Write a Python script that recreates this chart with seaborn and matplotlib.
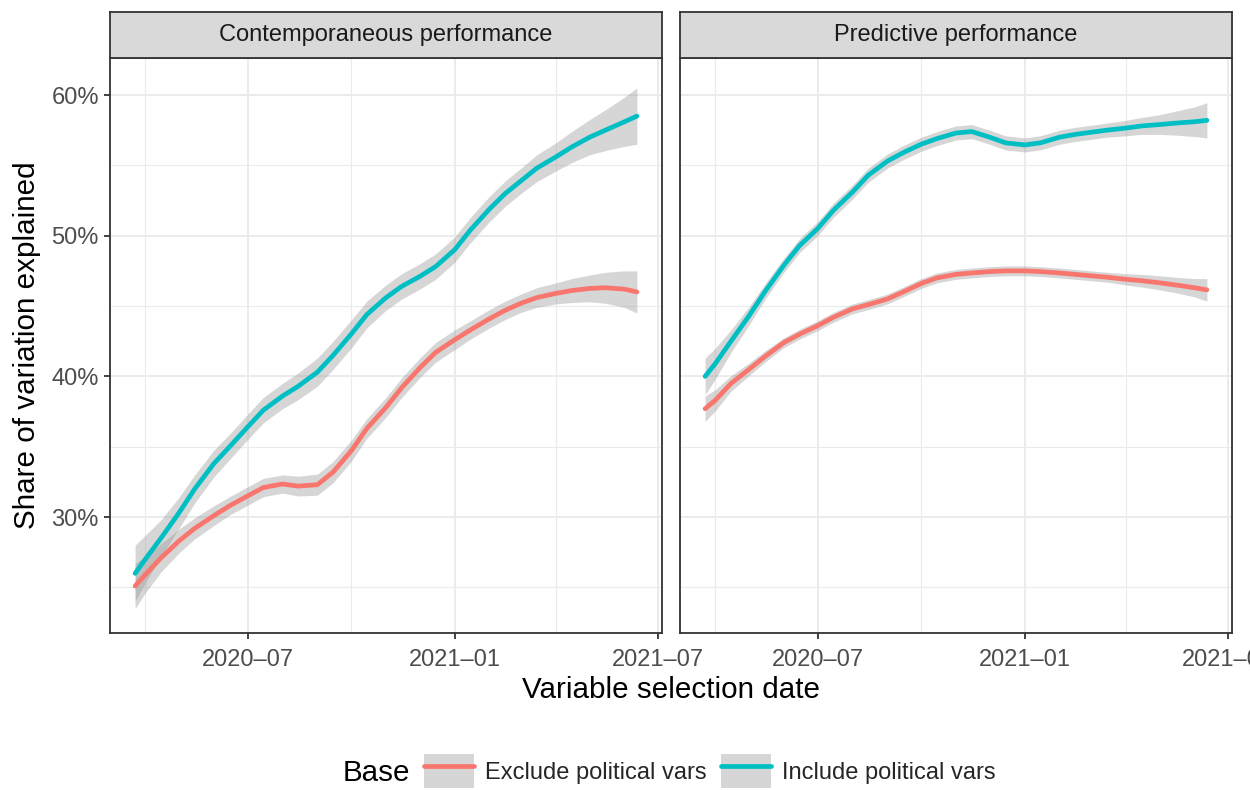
import matplotlib
matplotlib.use("Agg")
import matplotlib.pyplot as plt
import matplotlib.dates as mdates
from matplotlib.patches import Patch
from matplotlib.lines import Line2D
from matplotlib.ticker import FuncFormatter, FixedLocator
import numpy as np
import pandas as pd
import seaborn as sns

# ---------------- data ----------------
dates = ["2020-03-23", "2020-04-01", "2020-04-15", "2020-05-01", "2020-05-15",
         "2020-06-01", "2020-06-15", "2020-07-01", "2020-07-15", "2020-08-01",
         "2020-08-15", "2020-09-01", "2020-09-15", "2020-10-01", "2020-10-15",
         "2020-11-01", "2020-11-15", "2020-12-01", "2020-12-15", "2021-01-01",
         "2021-01-15", "2021-02-01", "2021-02-15", "2021-03-01", "2021-03-15",
         "2021-04-01", "2021-04-15", "2021-05-01", "2021-05-15", "2021-06-01",
         "2021-06-12"]

panels = ["Contemporaneous performance", "Predictive performance"]
bases = ["Exclude political vars", "Include political vars"]

contemp_exclude = [25.1, 25.9, 27.1, 28.3, 29.2, 30.1, 30.8, 31.5, 32.1, 32.35,
                   32.2, 32.3, 33.2, 34.7, 36.3, 37.8, 39.2, 40.6, 41.7, 42.6,
                   43.3, 44.1, 44.7, 45.2, 45.6, 45.9, 46.1, 46.25, 46.3, 46.2,
                   46.0]
contemp_exclude_se = [1.6, 1.3, 1.0, 0.85, 0.75, 0.7, 0.65, 0.65, 0.65, 0.65,
                      0.7, 0.75, 0.75, 0.75, 0.7, 0.7, 0.7, 0.7, 0.7, 0.7,
                      0.65, 0.65, 0.65, 0.65, 0.7, 0.75, 0.85, 0.95, 1.1, 1.3,
                      1.5]
contemp_include = [26.0, 27.0, 28.5, 30.3, 32.0, 33.8, 35.0, 36.4, 37.6, 38.6,
                   39.3, 40.3, 41.5, 43.0, 44.4, 45.6, 46.4, 47.1, 47.8, 49.0,
                   50.4, 51.9, 53.0, 53.9, 54.8, 55.6, 56.3, 57.0, 57.5, 58.1,
                   58.5]
contemp_include_se = [2.0, 1.7, 1.3, 1.1, 1.0, 0.95, 0.9, 0.9, 0.9, 0.9,
                      0.95, 1.0, 1.0, 1.0, 0.95, 0.9, 0.9, 0.9, 0.9, 0.9,
                      0.9, 0.9, 0.9, 0.9, 0.95, 1.0, 1.1, 1.25, 1.45, 1.75,
                      2.0]
predict_exclude = [37.7, 38.3, 39.5, 40.5, 41.4, 42.4, 43.0, 43.6, 44.2, 44.8,
                   45.1, 45.5, 46.0, 46.6, 47.0, 47.25, 47.35, 47.45, 47.5, 47.5,
                   47.45, 47.35, 47.25, 47.15, 47.05, 46.9, 46.8, 46.65, 46.5, 46.3,
                   46.15]
predict_exclude_se = [0.9, 0.75, 0.55, 0.45, 0.4, 0.35, 0.35, 0.35, 0.35, 0.35,
                      0.35, 0.35, 0.35, 0.35, 0.35, 0.35, 0.35, 0.35, 0.35, 0.35,
                      0.35, 0.35, 0.35, 0.35, 0.35, 0.4, 0.45, 0.5, 0.55, 0.65,
                      0.8]
predict_include = [40.0, 40.9, 42.5, 44.3, 46.0, 47.9, 49.3, 50.5, 51.8, 53.1,
                   54.3, 55.3, 55.9, 56.5, 56.9, 57.3, 57.4, 57.0, 56.6, 56.45,
                   56.6, 57.0, 57.2, 57.35, 57.5, 57.65, 57.8, 57.9, 58.0, 58.1,
                   58.2]
predict_include_se = [1.3, 1.1, 0.8, 0.65, 0.55, 0.5, 0.5, 0.5, 0.5, 0.5,
                      0.5, 0.5, 0.5, 0.5, 0.5, 0.5, 0.5, 0.5, 0.5, 0.5,
                      0.5, 0.5, 0.5, 0.5, 0.5, 0.55, 0.6, 0.7, 0.85, 1.05,
                      1.25]

y_major = [30, 40, 50, 60]
y_minor = [25, 35, 45, 55]
x_major = ["2020-07-01", "2021-01-01", "2021-07-01"]
x_minor = ["2020-04-01", "2020-10-01", "2021-04-01"]

colors = {"Exclude political vars": "#F8766D", "Include political vars": "#00BFC4"}

series = {
    (panels[0], bases[0]): (contemp_exclude, contemp_exclude_se),
    (panels[0], bases[1]): (contemp_include, contemp_include_se),
    (panels[1], bases[0]): (predict_exclude, predict_exclude_se),
    (panels[1], bases[1]): (predict_include, predict_include_se),
}
rows = []
for (p, b), (vals, se) in series.items():
    for d, v, s in zip(dates, vals, se):
        rows.append({"panel": p, "base": b, "date": pd.Timestamp(d),
                     "value": v, "lo": v - s, "hi": v + s})
df = pd.DataFrame(rows)

# ---------------- figure ----------------
sns.set_theme(style="white")
plt.rcParams["font.family"] = ["Liberation Sans", "DejaVu Sans"]

W, H = 1250, 790
fig = plt.figure(figsize=(W / 100, H / 100), dpi=100)

def fx(px):
    return px / W

def fy(py):
    return 1 - py / H

panel_top, panel_bot = 58, 633
strip_top = 12
lefts = [(110, 662), (680, 1232)]
TICK_FS = 17
TITLE_FS = 21.3
LW = 3.4

dmin, dmax = pd.Timestamp(dates[0]), pd.Timestamp(dates[-1])
span = dmax - dmin
xlim = (dmin - 0.05 * span, dmax + 0.05 * span)

for i, (p, (x0, x1)) in enumerate(zip(panels, lefts)):
    ax = fig.add_axes([fx(x0), fy(panel_bot), (x1 - x0) / W, (panel_bot - panel_top) / H])
    sub = df[df.panel == p]
    for b in bases:
        s = sub[sub.base == b]
        ax.fill_between(s["date"], s["lo"], s["hi"], color="#999999", alpha=0.4,
                        linewidth=0, zorder=2)
        sns.lineplot(data=s, x="date", y="value", color=colors[b], lw=LW,
                     ax=ax, zorder=3, legend=False)
    ax.set_xlim(xlim)
    ax.set_ylim(21.76, 62.63)
    ax.xaxis.set_major_locator(FixedLocator([mdates.date2num(pd.Timestamp(d)) for d in x_major]))
    ax.xaxis.set_minor_locator(FixedLocator([mdates.date2num(pd.Timestamp(d)) for d in x_minor]))
    ax.xaxis.set_major_formatter(mdates.DateFormatter("%Y\u2013%m"))
    ax.yaxis.set_major_locator(FixedLocator(y_major))
    ax.yaxis.set_minor_locator(FixedLocator(y_minor))
    ax.yaxis.set_major_formatter(FuncFormatter(lambda v, pos: f"{v:.0f}%"))
    ax.grid(True, which="major", color="#EBEBEB", lw=1.4, zorder=0)
    ax.grid(True, which="minor", color="#EBEBEB", lw=0.8, zorder=0)
    ax.set_axisbelow(True)
    ax.set_facecolor("white")
    for sp in ax.spines.values():
        sp.set_color("#333333")
        sp.set_linewidth(1.3)
        sp.set_visible(True)
    ax.tick_params(which="major", length=4.5, width=1.3, color="#333333",
                   labelcolor="#4D4D4D", labelsize=TICK_FS, pad=3.5,
                   bottom=True, left=(i == 0))
    ax.tick_params(axis="x", which="major", pad=7)
    ax.tick_params(which="minor", length=0)
    if i == 1:
        ax.tick_params(labelleft=False)
    ax.set_xlabel("")
    ax.set_ylabel("")

    # strip
    sax = fig.add_axes([fx(x0), fy(panel_top), (x1 - x0) / W, (panel_top - strip_top) / H])
    sax.set_facecolor("#D9D9D9")
    sax.set_xticks([])
    sax.set_yticks([])
    for sp in sax.spines.values():
        sp.set_color("#333333")
        sp.set_linewidth(1.3)
        sp.set_visible(True)
    sax.text(0.5, 0.5, p, ha="center", va="center", fontsize=TICK_FS, color="#1A1A1A",
             transform=sax.transAxes)

fig.text(fx(27), fy(345), "Share of variation explained", rotation=90,
         ha="center", va="center", fontsize=TITLE_FS, color="black")
fig.text(fx(671), fy(690), "Variable selection date", ha="center", va="center",
         fontsize=TITLE_FS, color="black")

# legend
fig.text(fx(343), fy(773), "Base", ha="left", va="center", fontsize=TITLE_FS, color="black")
handles = [(Patch(facecolor="#D6D6D6", edgecolor="none"),
            Line2D([], [], color=colors[b], lw=LW)) for b in bases]
fig.legend(handles, bases, loc="center left", bbox_to_anchor=(fx(424), fy(771)),
           ncol=2, frameon=False, fontsize=TICK_FS, handlelength=2.1, handleheight=1.85,
           handletextpad=0.47, columnspacing=0.64, borderpad=0, borderaxespad=0)

fig.savefig("out.png", dpi=100)
